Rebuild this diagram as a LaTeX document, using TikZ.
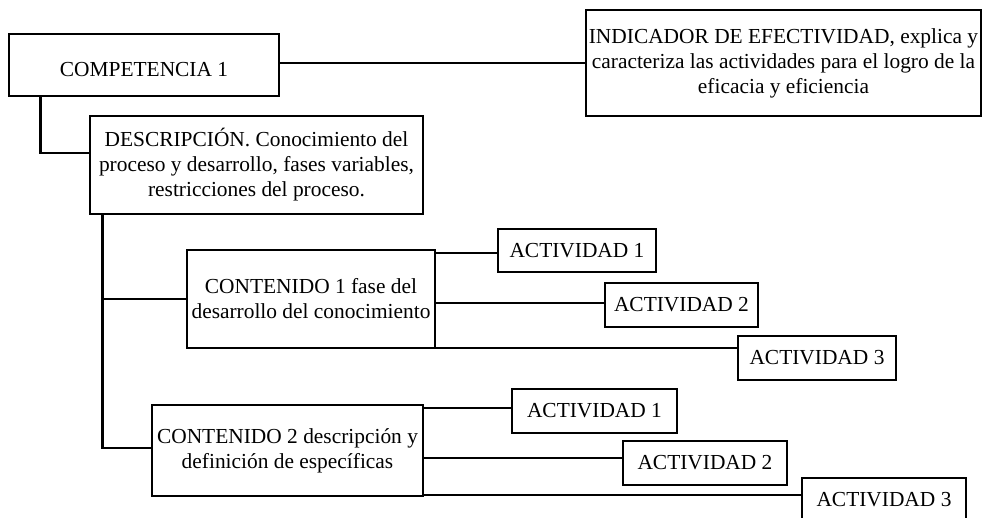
\documentclass[tikz,border=0pt]{standalone}
\usepackage{fontspec}
\setmainfont{Liberation Serif}
\begin{document}
\begin{tikzpicture}[x=1pt,y=-1pt,
  box/.style={draw=black, line width=2.8pt, rectangle, inner sep=0pt, align=center,
    font=\fontsize{21.4}{25}\selectfont},
  link/.style={draw=black, line width=2.4pt}]
\useasboundingbox[fill=white] (0,0) rectangle (989,518);
% main nodes
\node[box, minimum width=270, minimum height=62] (comp) at (144,65)
  {\raisebox{-5pt}[\height][\depth]{COMPETENCIA 1}};
\node[box, minimum width=395, minimum height=106] (ind) at (783.5,63)
  {INDICADOR DE EFECTIVIDAD, explica y\\caracteriza las actividades para el logro de la\\eficacia y eficiencia};
\node[box, minimum width=333, minimum height=98] (desc) at (256.5,165)
  {DESCRIPCIÓN. Conocimiento del\\proceso y desarrollo, fases variables,\\restricciones del proceso.};
\node[box, minimum width=248, minimum height=98] (cont1) at (311,299)
  {CONTENIDO 1 fase del\\desarrollo del conocimiento};
\node[box, minimum width=271, minimum height=91] (cont2) at (287.5,450.5)
  {CONTENIDO 2 descripción y\\definición de específicas};
% activities
\node[box, minimum width=158, minimum height=43] (a11) at (577,250.5) {ACTIVIDAD 1};
\node[box, minimum width=153, minimum height=44] (a12) at (681.5,305) {ACTIVIDAD 2};
\node[box, minimum width=158, minimum height=44] (a13) at (817,358) {ACTIVIDAD 3};
\node[box, minimum width=165, minimum height=44] (a21) at (594.5,411) {ACTIVIDAD 1};
\node[box, minimum width=164, minimum height=44] (a22) at (705,463) {ACTIVIDAD 2};
\node[box, minimum width=164, minimum height=44] (a23) at (884,500) {ACTIVIDAD 3};
% connectors
\draw[link] (ind.west -| comp.east) -- (ind.west);
\coordinate (cd) at ([xshift=33pt]comp.south west);
\coordinate (dd) at ([yshift=12pt]desc.west);
\draw[link] (cd) |- (dd);
\coordinate (trunk) at ([xshift=14pt]desc.south west);
\coordinate (c2w) at ([yshift=2.5pt]cont2.west);
\draw[link] (trunk) |- (c2w);
\draw[link] (cont1.west -| trunk) -- (cont1.west);
\coordinate (p11) at ([yshift=-2.5pt]a11.west);
\coordinate (p12) at ([yshift=2pt]a12.west);
\coordinate (p13) at ([yshift=10pt]a13.west);
\draw[link] (p11 -| cont1.east) -- (p11);
\draw[link] (p12 -| cont1.east) -- (p12);
\draw[link] (p13 -| cont1.east) -- (p13);
\coordinate (p21) at ([yshift=3pt]a21.west);
\coordinate (p22) at ([yshift=5pt]a22.west);
\coordinate (p23) at ([yshift=5pt]a23.west);
\draw[link] (p21 -| cont2.east) -- (p21);
\draw[link] (p22 -| cont2.east) -- (p22);
\draw[link] (p23 -| cont2.east) -- (p23);
\end{tikzpicture}
\end{document}
